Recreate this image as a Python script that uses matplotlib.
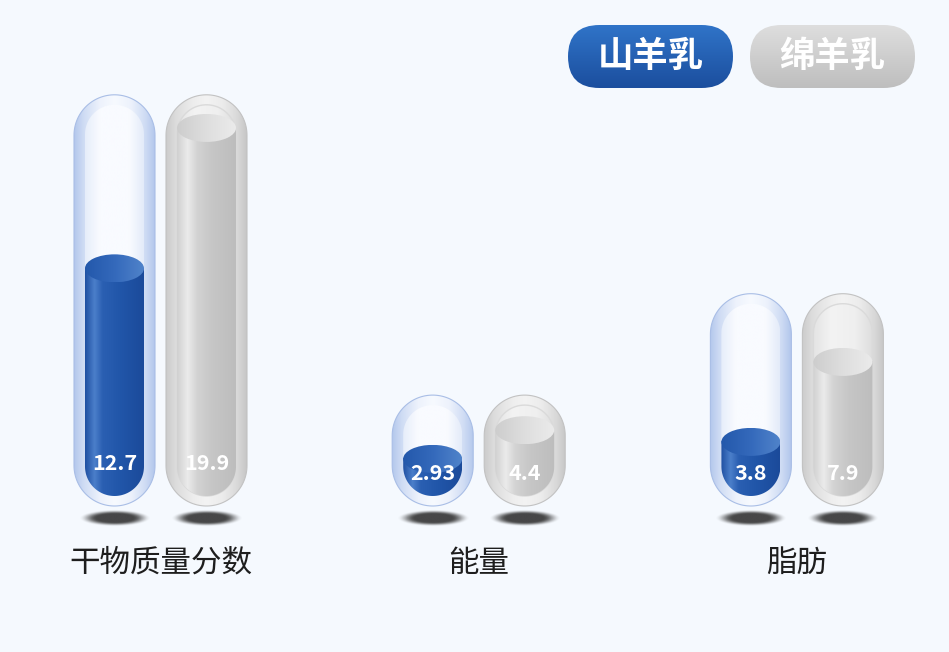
import numpy as np
import matplotlib
matplotlib.use('Agg')
import matplotlib.pyplot as plt
from matplotlib.path import Path
from matplotlib.patches import PathPatch, Ellipse, FancyBboxPatch
from matplotlib.colors import to_rgb

plt.rcParams['font.family'] = ['Noto Sans CJK SC', 'DejaVu Sans']

categories = ['干物质量分数', '能量', '脂肪']
series = ['山羊乳', '绵羊乳']
goat = [12.7, 2.93, 3.8]
sheep = [19.9, 4.4, 7.9]
track = [21.6, 6.2, 11.4]   # background capsule per category

# layout (pixels)
W, H = 949, 652
PX_X = 318.2      # px per category band
PX_Y = 19.5       # px per value unit
X0 = 160.5        # px of category 0
Y0 = 516          # px of value 0
OFF = 46          # px offset of each series from band centre
OUT_W = 81
IN_W = 59
label_base = [2.36, 1.85, 1.85]


def px(n):
    return n / PX_X


def py(n):
    return n / PX_Y


def grad(stops, n=256, vertical=False):
    pos = np.array([s[0] for s in stops])
    cols = np.array([to_rgb(s[1]) for s in stops])
    t = np.linspace(0, 1, n)
    img = np.stack([np.interp(t, pos, cols[:, k]) for k in range(3)], axis=-1)
    if vertical:
        return img[:, None, :]
    return img[None, :, :]


def capsule(xc, y0, y1, w):
    rx = px(w / 2)
    ry = py(w / 2)
    if y1 - y0 < 2 * ry:
        ry = (y1 - y0) / 2
    t = np.linspace(np.pi, 2 * np.pi, 60)
    bot = np.column_stack([xc + rx * np.cos(t), y0 + ry + ry * np.sin(t)])
    t = np.linspace(0, np.pi, 60)
    top = np.column_stack([xc + rx * np.cos(t), y1 - ry + ry * np.sin(t)])
    verts = np.vstack([bot, top, bot[:1]])
    codes = [Path.MOVETO] + [Path.LINETO] * (len(verts) - 2) + [Path.CLOSEPOLY]
    return Path(verts, codes)


def fill(ax, patch, stops, z, extent=None):
    ax.add_patch(patch)
    if extent is None:
        bb = patch.get_path().get_extents()
        extent = [bb.x0, bb.x1, bb.y0, bb.y1]
    im = ax.imshow(grad(stops), extent=extent, aspect='auto',
                   interpolation='bilinear', origin='lower', zorder=z)
    im.set_clip_path(patch)
    return im


styles = {
    '山羊乳': dict(
        outer=[(0, '#b3c7ec'), (0.12, '#cfdcf4'), (0.32, '#edf2fc'), (0.5, '#f7faff'),
               (0.7, '#edf2fc'), (0.88, '#cfdcf4'), (1, '#b3c7ec')],
        edge='#a9bee6',
        inner=[(0, '#e6edfa'), (0.25, '#f9fbff'), (0.75, '#f9fbff'), (1, '#e3ebf9')],
        inedge='none',
        body=[(0, '#1f4fa2'), (0.16, '#4b7fca'), (0.3, '#2a5fb2'), (0.6, '#2156a9'), (1, '#1b4a9a')],
        lid=[(0, '#2358ab'), (0.5, '#3469bb'), (1, '#5083ca')],
    ),
    '绵羊乳': dict(
        outer=[(0, '#cbcbcb'), (0.12, '#dcdcdc'), (0.35, '#eeeeee'), (0.5, '#f3f3f3'),
               (0.7, '#ececec'), (0.88, '#d9d9d9'), (1, '#c6c6c6')],
        edge='#c2c2c2',
        inner=[(0, '#e3e3e3'), (0.3, '#f3f3f3'), (0.7, '#efefef'), (1, '#dddddd')],
        inedge='#dadada',
        body=[(0, '#d0d0d0'), (0.18, '#ebebeb'), (0.34, '#d3d3d3'), (0.6, '#c6c6c6'), (1, '#bdbdbd')],
        lid=[(0, '#cdcdcd'), (0.5, '#dedede'), (1, '#ebebeb')],
    ),
}

fig = plt.figure(figsize=(W / 100, H / 100), dpi=100, facecolor='#f5f9fe')
ax = fig.add_axes([0, 0, 1, 1])
ax.set_facecolor('#f5f9fe')
ax.set_autoscale_on(False)
ax.set_xlim(-X0 / PX_X, (W - X0) / PX_X)
ax.set_ylim((Y0 - H) / PX_Y, Y0 / PX_Y)
ax.axis('off')

# soft shadow sprite: ~36 x 8 px half axes, feathered edge
gx, gy = np.meshgrid(np.linspace(-1, 1, 160), np.linspace(-1, 1, 60))
r = np.sqrt((gx / 0.82) ** 2 + (gy / 0.6) ** 2)
a = np.clip((1.0 - r) / 0.5, 0, 1)
a = a * a * (3 - 2 * a) * 0.9
shadow = np.zeros((60, 160, 4))
shadow[..., :3] = to_rgb('#333333')
shadow[..., 3] = a

for i, cat in enumerate(categories):
    for j, (name, vals) in enumerate(zip(series, [goat, sheep])):
        st = styles[name]
        xc = i + px(-OFF if j == 0 else OFF)
        v = vals[i]

        ax.imshow(shadow, extent=[xc - px(44), xc + px(44), -py(16), py(12)],
                  aspect='auto', interpolation='bilinear', origin='lower', zorder=1)

        outer = PathPatch(capsule(xc, py(10), track[i], OUT_W),
                          facecolor='none', edgecolor='none')
        fill(ax, outer, st['outer'], 2)
        ax.add_patch(PathPatch(outer.get_path(), facecolor='none',
                               edgecolor=st['edge'], lw=0.8, zorder=2.1))

        ipath = capsule(xc, py(20), track[i] - py(10), IN_W)
        inner = PathPatch(ipath, facecolor='none', edgecolor='none')
        fill(ax, inner, st['inner'], 3)
        ax.add_patch(PathPatch(ipath, facecolor='none', edgecolor=st['inedge'],
                               lw=1.0, zorder=3.1))

        body = PathPatch(ipath, facecolor='none', edgecolor='none')
        fill(ax, body, st['body'], 4,
             extent=[xc - px(IN_W / 2), xc + px(IN_W / 2), 0, v])

        lid = Ellipse((xc, v), width=px(IN_W), height=py(28),
                      facecolor='none', edgecolor='none')
        fill(ax, lid, st['lid'], 5,
             extent=[xc - px(IN_W / 2), xc + px(IN_W / 2), v - py(14), v + py(14)])

        ax.text(xc, label_base[i], f'{v:g}', ha='center', va='baseline',
                color='white', fontsize=15.5, fontweight='bold', zorder=6)

    ax.text(i, -py(47), cat, ha='center', va='center', fontsize=22,
            color='#1e1e1e', zorder=6)

# legend pills (pixel coordinates)
lax = fig.add_axes([0, 0, 1, 1])
lax.set_xlim(0, W)
lax.set_ylim(H, 0)
lax.set_autoscale_on(False)
lax.axis('off')
lax.patch.set_visible(False)
pill_cols = {'山羊乳': [(0, '#3074c8'), (1, '#1b4e9e')],
             '绵羊乳': [(0, '#dedede'), (1, '#bebebe')]}
for k, name in enumerate(series):
    x0 = 568 + k * 182
    pill = FancyBboxPatch((x0, 25), 165, 63, boxstyle='round,pad=0,rounding_size=31.5',
                          facecolor='none', edgecolor='none')
    lax.add_patch(pill)
    im = lax.imshow(grad(pill_cols[name], vertical=True), extent=[x0, x0 + 165, 88, 25],
                    aspect='auto', interpolation='bilinear', origin='upper', zorder=2)
    im.set_clip_path(pill)
    lax.text(x0 + 82.5, 56, name, ha='center', va='center', color='white',
             fontsize=25.5, fontweight='heavy', zorder=3)

fig.savefig('out.png', dpi=100, facecolor=fig.get_facecolor())
